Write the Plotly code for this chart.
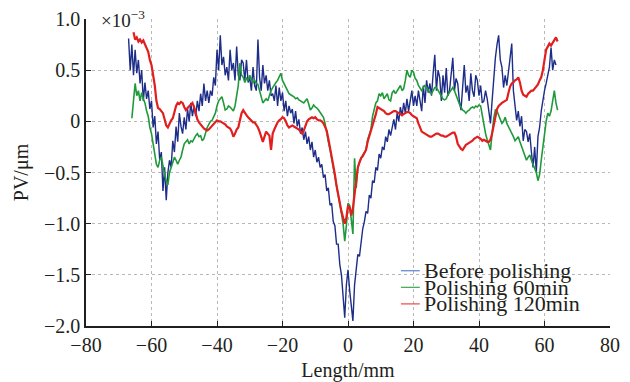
import plotly.graph_objects as go

# ---------------- data (PV in units of 1e-3 um, Length in mm) ----------------
step_mm = 0.5

before_start = -67.0
before_pv = [
    0.81, 0.5, 0.75, 0.45, 0.7, 0.47, 0.6, 0.37, 0.5, 0.2,
    0.38, 0.22, 0.3, 0.12, 0.2, -0.06, 0.05, -0.22, -0.1, -0.38,
    -0.3, -0.68, -0.45, -0.77, -0.5, -0.38, -0.45, -0.19, -0.3, -0.05,
    -0.2, 0.08, -0.05, -0.12, 0.04, -0.08, 0.12, 0.0, 0.18, 0.05,
    0.15, 0.05, 0.2, 0.1, 0.27, 0.15, 0.37, 0.2, 0.3, 0.18,
    0.3, 0.25, 0.43, 0.35, 0.7, 0.5, 0.84, 0.55, 0.63, 0.45,
    0.53, 0.4, 0.7, 0.5, 0.57, 0.4, 0.73, 0.45, 0.4, 0.6,
    0.57, 0.4, 0.6, 0.38, 0.43, 0.3, 0.53, 0.35, 0.3, 0.8,
    0.43, 0.3, 0.55, 0.37, 0.45, 0.3, 0.4, 0.25, 0.27, 0.2,
    0.35, 0.15, 0.33, 0.2, 0.28, 0.1, 0.2, 0.05, 0.15, 0.08,
    0.12, -0.02, 0.1, -0.05, 0.02, -0.12, -0.06, -0.18, -0.1, -0.22,
    -0.15, -0.28, -0.2, -0.35, -0.28, -0.4, -0.35, -0.45, -0.42, -0.55,
    -0.52, -0.68, -0.65, -0.82, -0.8, -0.98, -1.02, -1.2, -1.2, -1.4,
    -1.5, -1.72, -1.92, -1.6, -1.45, -1.65, -1.8, -1.95, -1.6, -1.45,
    -1.3, -1.32, -1.15, -1.05, -0.98, -0.88, -0.9, -0.72, -0.75, -0.58,
    -0.6, -0.45, -0.48, -0.32, -0.36, -0.25, -0.28, -0.15, -0.2, -0.08,
    -0.14, -0.04, 0.02, -0.08, 0.08, 0.0, 0.14, 0.05, 0.18, 0.08,
    0.22, 0.1, 0.2, 0.3, 0.15, 0.25, 0.15, 0.3, 0.2, 0.1,
    0.35, 0.18, 0.4, 0.28, 0.37, 0.25, 0.47, 0.65, 0.3, 0.5,
    0.43, 0.2, 0.45, 0.28, 0.52, 0.25, 0.3, 0.45, 0.62, 0.3,
    0.42, 0.37, 0.2, 0.11, 0.3, 0.55, 0.28, 0.35, 0.2, 0.47,
    0.3, 0.24, 0.45, 0.4, 0.25, 0.35, 0.18, 0.2, 0.3, 0.22,
    0.1, -0.02, 0.2, 0.45, 0.62, 0.75, 0.84, 0.6, 0.53, 0.33,
    0.45, 0.35, 0.5, 0.6, 0.76, 0.3, 0.15, 0.01, 0.1, -0.05,
    0.05, -0.19, -0.08, -0.1, -0.2, -0.12, -0.3, -0.45, -0.25, -0.5,
    -0.15, -0.06, 0.1, 0.21, 0.3, 0.37, 0.45, 0.53, 0.72, 0.5,
    0.6, 0.55,
]

p60_start = -66.0
p60_pv = [
    0.03, 0.2, 0.37, 0.25, 0.3, 0.2, 0.28, 0.22, 0.18, 0.1,
    0.05, -0.06, -0.12, -0.22, -0.35, -0.42, -0.45, -0.38, -0.35, -0.45,
    -0.52, -0.58, -0.62, -0.5, -0.45, -0.4, -0.35, -0.38, -0.42, -0.38,
    -0.35, -0.28, -0.22, -0.2, -0.18, -0.22, -0.19, -0.2, -0.16, -0.14,
    -0.12, -0.15, -0.14, -0.19, -0.17, -0.1, -0.06, -0.03, 0.0, 0.01,
    0.05, 0.08, 0.15, 0.2, 0.22, 0.24, 0.18, 0.11, 0.12, 0.15,
    0.14, 0.12, 0.1, 0.15, 0.24, 0.35, 0.57, 0.45, 0.43, 0.38,
    0.42, 0.4, 0.45, 0.42, 0.38, 0.4, 0.37, 0.36, 0.3, 0.22,
    0.18, 0.2, 0.22, 0.2, 0.26, 0.3, 0.33, 0.36, 0.38, 0.4,
    0.44, 0.47, 0.4, 0.37, 0.33, 0.3, 0.27, 0.26, 0.25, 0.24,
    0.22, 0.23, 0.21, 0.2, 0.19, 0.18, 0.2, 0.22, 0.17, 0.11,
    0.13, 0.16, 0.14, 0.13, 0.11, 0.09, 0.06, 0.04, -0.02, -0.12,
    -0.2, -0.27, -0.36, -0.44, -0.51, -0.6, -0.68, -0.79, -0.9, -1.0,
    -1.17, -1.02, -0.8, -0.82, -0.95, -1.1, -0.36, -0.65, -0.45, -0.4,
    -0.36, -0.33, -0.31, -0.28, -0.18, -0.12, -0.08, 0.05, 0.12, 0.18,
    0.2, 0.27, 0.25, 0.28, 0.22, 0.25, 0.27, 0.21, 0.2, 0.28,
    0.3, 0.27, 0.3, 0.33, 0.35, 0.3, 0.32, 0.4, 0.5, 0.45,
    0.43, 0.5, 0.48, 0.42, 0.4, 0.35, 0.32, 0.3, 0.33, 0.35,
    0.33, 0.3, 0.28, 0.27, 0.3, 0.33, 0.33, 0.3, 0.27, 0.25,
    0.22, 0.21, 0.22, 0.26, 0.28, 0.31, 0.33, 0.3, 0.25, 0.21,
    0.17, 0.14, 0.11, 0.1, 0.08, 0.1, 0.11, 0.13, 0.14, 0.13,
    0.15, 0.14, 0.16, 0.15, 0.05, -0.06, -0.12, -0.18, -0.24, -0.28,
    -0.12, 0.03, 0.11, 0.1, 0.06, 0.02, -0.02, 0.0, 0.04, -0.02,
    -0.05, -0.08, -0.12, -0.15, -0.19, -0.17, -0.15, -0.2, -0.25, -0.28,
    -0.33, -0.38, -0.35, -0.33, -0.38, -0.42, -0.45, -0.5, -0.58, -0.52,
    -0.38, -0.25, -0.1, 0.0, 0.08, 0.05, 0.1, 0.22, 0.3, 0.18,
    0.11,
]

p120_start = -65.5
p120_pv = [
    0.87, 0.8, 0.82, 0.78, 0.8, 0.77, 0.79, 0.75, 0.7, 0.68,
    0.6, 0.55, 0.45, 0.35, 0.2, 0.13, 0.12, 0.1, 0.08, 0.02,
    -0.04, -0.06, -0.02, 0.01, 0.03, 0.1, 0.15, 0.18, 0.17, 0.19,
    0.18, 0.14, 0.11, 0.13, 0.15, 0.16, 0.18, 0.14, 0.08, 0.02,
    -0.01, -0.03, -0.06, -0.07, -0.08, -0.09, -0.08, -0.06, -0.04, -0.02,
    0.0, 0.01, 0.0, 0.0, -0.01, -0.02, -0.03, -0.05, -0.06, -0.07,
    -0.1, -0.15, -0.12, -0.08, -0.06, 0.02, 0.08, 0.11, 0.08, 0.06,
    0.04, 0.02, 0.0, -0.01, -0.01, -0.03, -0.06, -0.1, -0.15, -0.2,
    -0.15, -0.1, -0.12, -0.14, -0.28, -0.12, -0.08, -0.04, -0.01, 0.01,
    0.02, 0.04, 0.03, 0.0, -0.04, -0.06, -0.05, -0.04, -0.05, -0.06,
    -0.07, -0.08, -0.1, -0.12, -0.09, -0.04, 0.0, 0.02, 0.03, 0.04,
    0.03, 0.04, 0.02, 0.01, 0.01, 0.0, -0.02, -0.05, -0.09, -0.17,
    -0.25, -0.35, -0.42, -0.52, -0.63, -0.72, -0.8, -0.88, -0.94, -1.0,
    -0.94, -0.83, -0.84, -0.92, -0.85, -0.71, -0.56, -0.45, -0.4, -0.36,
    -0.34, -0.31, -0.28, -0.2, -0.15, -0.1, -0.04, 0.02, 0.07, 0.14,
    0.13, 0.12, 0.11, 0.1, 0.08, 0.07, 0.07, 0.08, 0.09, 0.1,
    0.1, 0.09, 0.08, 0.07, 0.06, 0.07, 0.08, 0.09, 0.09, 0.08,
    0.06, 0.05, 0.04, 0.03, -0.02, -0.07, -0.1, -0.11, -0.12, -0.13,
    -0.14, -0.15, -0.15, -0.14, -0.13, -0.12, -0.12, -0.13, -0.14, -0.14,
    -0.15, -0.15, -0.14, -0.13, -0.12, -0.11, -0.11, -0.15, -0.22, -0.25,
    -0.27, -0.28, -0.25, -0.23, -0.22, -0.21, -0.2, -0.19, -0.17, -0.16,
    -0.15, -0.16, -0.17, -0.19, -0.18, -0.19, -0.2, -0.2, -0.18, -0.12,
    -0.04, 0.05, 0.12, 0.15, 0.17, 0.18, 0.19, 0.2, 0.21, 0.28,
    0.34, 0.37, 0.38, 0.4, 0.41, 0.43, 0.38, 0.3, 0.26, 0.25,
    0.24, 0.27, 0.29, 0.3, 0.3, 0.32, 0.33, 0.36, 0.4, 0.43,
    0.5, 0.6, 0.7, 0.73, 0.76, 0.74, 0.77, 0.8, 0.82, 0.78,
]

series_names = ["Before polishing", "Polishing 60min", "Polishing 120min"]
series_colors = ["#1d2d88", "#1f9a3a", "#e11f1f"]
legend_colors = ["#5b80d4", "#3aa847", "#ee4646"]

x_ticks = [-80, -60, -40, -20, 0, 20, 40, 60, 80]
x_ticktext = ["\u221280", "\u221260", "\u221240", "\u221220", "0", "20", "40", "60", "80"]
y_ticks = [-2.0, -1.5, -1.0, -0.5, 0, 0.5, 1.0]
y_ticktext = ["\u22122.0", "\u22121.5", "\u22121.0", "\u22120.5", "0", "0.5", "1.0"]


def xs(start, values):
    return [start + i * step_mm for i in range(len(values))]


FONT = "Liberation Serif, Times New Roman, serif"
INK = "#231f20"

fig = go.Figure()
widths = [1.4, 1.6, 2.2]
for name, start, vals, col, w in zip(
    series_names,
    [before_start, p60_start, p120_start],
    [before_pv, p60_pv, p120_pv],
    series_colors,
    widths,
):
    fig.add_trace(go.Scatter(x=xs(start, vals), y=vals, mode="lines", name=name,
                             line=dict(color=col, width=w), showlegend=False,
                             hoverinfo="skip"))

# legend drawn as text with short sample lines
leg_y = [0.180, 0.126, 0.072]
for name, col, yy in zip(series_names, legend_colors, leg_y):
    fig.add_shape(type="line", xref="paper", yref="paper", x0=0.601, x1=0.637,
                  y0=yy, y1=yy, line=dict(color=col, width=1.2))
    fig.add_annotation(text=name, xref="paper", yref="paper", x=0.641, y=yy,
                       xanchor="left", yanchor="middle", showarrow=False,
                       font=dict(family=FONT, size=22, color=INK))

fig.add_annotation(text="\u00d710<sup>\u22123</sup>", xref="paper", yref="paper",
                   x=0.025, y=1.0, xanchor="left", yanchor="middle", showarrow=False,
                   font=dict(family=FONT, size=19, color=INK))

axis_common = dict(
    showline=True, linecolor=INK, linewidth=1.5,
    ticks="inside", ticklen=5, tickwidth=1.2, tickcolor=INK,
    showgrid=True, gridcolor="#b8b8b8", griddash="dot", gridwidth=1,
    zeroline=False, tickfont=dict(family=FONT, size=20, color=INK),
    mirror=False, automargin=False,
)

fig.update_layout(
    width=630, height=382,
    margin=dict(l=86, r=20, t=19, b=56),
    paper_bgcolor="white", plot_bgcolor="white",
    xaxis=dict(range=[-80, 80], tickvals=x_ticks, ticktext=x_ticktext,
               title=dict(text="Length/mm", font=dict(family=FONT, size=20, color=INK),
                          standoff=9),
               **axis_common),
    yaxis=dict(range=[-2, 1], tickvals=y_ticks, ticktext=y_ticktext,
               title=dict(text="PV/\u03bcm", font=dict(family=FONT, size=20, color=INK),
                          standoff=10),
               **axis_common),
    font=dict(family=FONT, color=INK),
)

fig.write_html("out.html", config={"displayModeBar": False},
               post_script="document.body.style.margin='0';document.body.style.overflow='hidden';")
